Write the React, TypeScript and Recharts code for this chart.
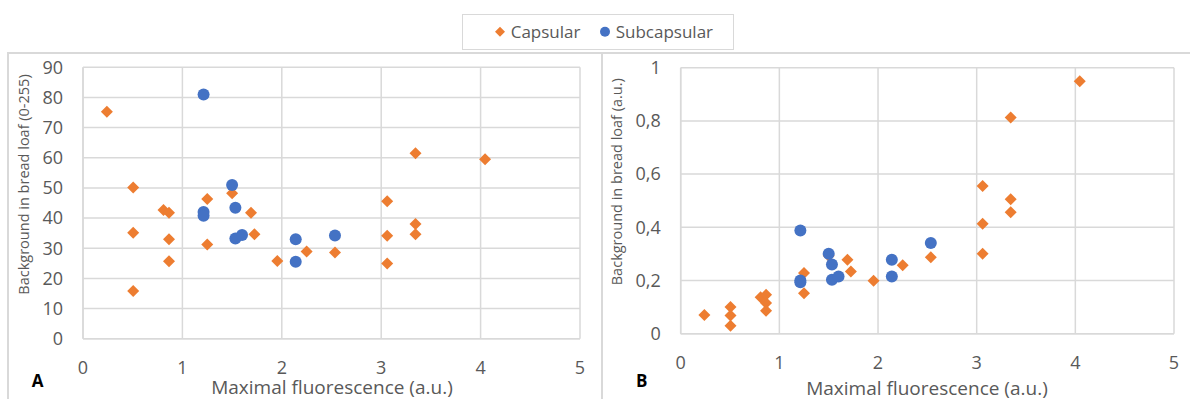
import React from 'react';
import { ScatterChart, Scatter, XAxis, YAxis, CartesianGrid } from 'recharts';

// Maximal fluorescence (a.u.) per sample
const capsularX = [0.24, 0.505, 0.505, 0.505, 0.81, 0.865, 0.865, 0.865, 1.25, 1.25, 1.5, 1.69, 1.725, 1.955, 2.25, 2.535, 3.06, 3.06, 3.06, 3.345, 3.345, 3.345, 4.045];
// Panel A: background in bread loaf (0-255)
const capsularA = [75.3, 50.1, 35.1, 15.8, 42.7, 41.8, 33.0, 25.7, 46.3, 31.2, 48.2, 41.8, 34.6, 25.8, 28.9, 28.6, 45.6, 34.1, 24.9, 61.5, 38.0, 34.6, 59.5];
// Panel B: background in bread loaf (a.u.)
const capsularB = [0.07, 0.1, 0.068, 0.03, 0.137, 0.146, 0.115, 0.086, 0.228, 0.152, 0.293, 0.278, 0.234, 0.199, 0.257, 0.287, 0.555, 0.413, 0.301, 0.813, 0.505, 0.457, 0.949];

const subcapsularX = [1.213, 1.213, 1.213, 1.5, 1.533, 1.533, 1.6, 2.14, 2.14, 2.535];
const subcapsularA = [81.0, 42.0, 40.8, 51.0, 43.4, 33.2, 34.4, 33.0, 25.5, 34.2];
const subcapsularB = [0.388, 0.2, 0.193, 0.301, 0.26, 0.203, 0.215, 0.278, 0.215, 0.341];

const xTicks = [0, 1, 2, 3, 4, 5];
const yTicksA = [0, 10, 20, 30, 40, 50, 60, 70, 80, 90];
const yTicksB = [0, 0.2, 0.4, 0.6, 0.8, 1];

const seriesNames = ['Capsular', 'Subcapsular'];
const xTitle = 'Maximal fluorescence (a.u.)';
const yTitleA = 'Background in bread loaf (0-255)';
const yTitleB = 'Background in bread loaf (a.u.)';

const ORANGE = '#ED7D31';
const BLUE = '#4472C4';
const GRID = '#d9d9d9';
const TEXT = '#595959';
const FONT = '"Open Sans", sans-serif';

const zip = (xs: number[], ys: number[]) => xs.map((x, i) => ({ x, y: ys[i] }));

const capA = zip(capsularX, capsularA);
const subA = zip(subcapsularX, subcapsularA);
const capB = zip(capsularX, capsularB);
const subB = zip(subcapsularX, subcapsularB);

const DiamondShape = (props: any) => {
  const { cx, cy } = props;
  const r = 6;
  return <path d={`M${cx},${cy - r}L${cx + r},${cy}L${cx},${cy + r}L${cx - r},${cy}Z`} fill={ORANGE} />;
};
const CircleShape = (props: any) => {
  const { cx, cy } = props;
  return <circle cx={cx} cy={cy} r={6} fill={BLUE} />;
};

const fmtB = (v: number) => (v === 0 ? '0' : v === 1 ? '1' : v.toFixed(1).replace('.', ','));

const tickStyle = { fontSize: 18, fill: TEXT, fontFamily: FONT };

const makeXLabel = (cx: number, baseline: number, letter: string, lx: number) => () => (
  <g>
    <text x={cx} y={baseline} textAnchor="middle" fontSize={19} fill={TEXT} fontFamily={FONT}>{xTitle}</text>
    <text x={lx} y={387} fontSize={17} fontWeight="bold" fill="#000" fontFamily={FONT}>{letter}</text>
  </g>
);
const makeYLabel = (title: string, bx: number, cy: number) => () => (
  <text x={bx} y={cy} transform={`rotate(-90, ${bx}, ${cy})`} textAnchor="middle" fontSize={14.5} fill={TEXT} fontFamily={FONT}>{title}</text>
);

export default function App() {
  return (
    <div style={{ position: 'absolute', left: 0, top: 0, width: 1190, height: 399, background: '#fff', overflow: 'hidden', fontFamily: FONT }}>
      {/* panel frames */}
      <div style={{ position: 'absolute', left: 7, top: 52, width: 1200, height: 2, background: GRID }} />
      <div style={{ position: 'absolute', left: 7, top: 52, width: 2, height: 400, background: GRID }} />
      <div style={{ position: 'absolute', left: 601, top: 52, width: 2, height: 400, background: GRID }} />

      {/* legend */}
      <svg width={272} height={36} style={{ position: 'absolute', left: 462, top: 14 }}>
        <rect x={0.5} y={0.5} width={271} height={35} fill="#fff" stroke={GRID} strokeWidth={1} />
        <path d="M38,12.7L43,17.7L38,22.7L33,17.7Z" fill={ORANGE} />
        <text x={48.7} y={24.3} fontSize={17} fill={TEXT} fontFamily={FONT}>{seriesNames[0]}</text>
        <circle cx={143} cy={17.7} r={5} fill={BLUE} />
        <text x={153.7} y={24.3} fontSize={17} fill={TEXT} fontFamily={FONT}>{seriesNames[1]}</text>
      </svg>

      {/* Panel A */}
      <div style={{ position: 'absolute', left: 0, top: 0 }}>
        <ScatterChart width={600} height={399} margin={{ top: 67.3, right: 20, bottom: 0, left: 0 }}>
          <CartesianGrid stroke={GRID} strokeWidth={1.5} />
          <XAxis type="number" dataKey="x" domain={[0, 5]} ticks={xTicks} interval={0} height={60.3}
            axisLine={{ stroke: GRID, strokeWidth: 1.5 }} tickLine={false} tickSize={0} tickMargin={23}
            tick={tickStyle} label={makeXLabel(332, 394, 'A', 31.7)} />
          <YAxis type="number" dataKey="y" domain={[0, 90]} ticks={yTicksA} interval={0} width={83}
            axisLine={{ stroke: GRID, strokeWidth: 1.5 }} tickLine={false} tickSize={0} tickMargin={20}
            tick={tickStyle} label={makeYLabel(yTitleA, 28.7, 184.5)} />
          <Scatter name={seriesNames[0]} data={capA} shape={DiamondShape} isAnimationActive={false} />
          <Scatter name={seriesNames[1]} data={subA} shape={CircleShape} isAnimationActive={false} />
        </ScatterChart>
      </div>

      {/* Panel B */}
      <div style={{ position: 'absolute', left: 600, top: 0 }}>
        <ScatterChart width={590} height={399} margin={{ top: 67.7, right: 16, bottom: 0, left: 0 }}>
          <CartesianGrid stroke={GRID} strokeWidth={1.5} />
          <XAxis type="number" dataKey="x" domain={[0, 5]} ticks={xTicks} interval={0} height={65.3}
            axisLine={{ stroke: GRID, strokeWidth: 1.5 }} tickLine={false} tickSize={0} tickMargin={23}
            tick={tickStyle} label={makeXLabel(327, 394.5, 'B', 36)} />
          <YAxis type="number" dataKey="y" domain={[0, 1]} ticks={yTicksB} interval={0} width={80.7}
            axisLine={{ stroke: GRID, strokeWidth: 1.5 }} tickLine={false} tickSize={0} tickMargin={20}
            tick={tickStyle} tickFormatter={fmtB} label={makeYLabel(yTitleB, 21.7, 181.7)} />
          <Scatter name={seriesNames[0]} data={capB} shape={DiamondShape} isAnimationActive={false} />
          <Scatter name={seriesNames[1]} data={subB} shape={CircleShape} isAnimationActive={false} />
        </ScatterChart>
      </div>
    </div>
  );
}
